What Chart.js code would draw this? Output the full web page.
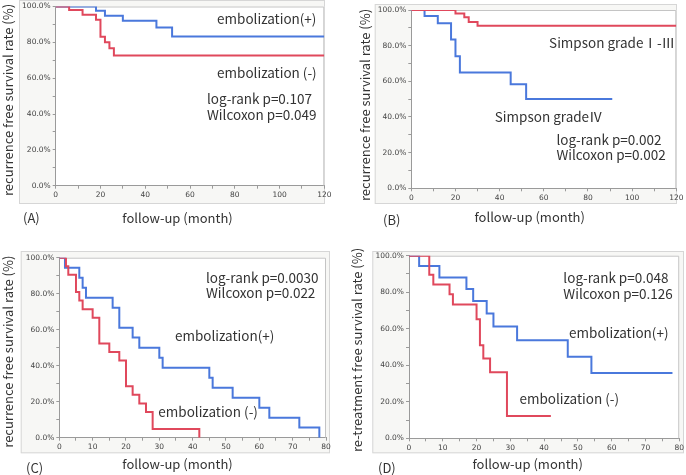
<!DOCTYPE html>
<html>
<head>
<meta charset="utf-8">
<script src="https://cdn.jsdelivr.net/npm/chart.js@4.4.1/dist/chart.umd.min.js"></script>
<style>
  html, body { margin: 0; padding: 0; background: #fff; }
  body { width: 686px; height: 475px; position: relative; overflow: hidden; }
  canvas { position: absolute; }
</style>
</head>
<body>
<canvas id="chart-a" width="343" height="237" style="left:0;top:0"></canvas>
<canvas id="chart-b" width="343" height="237" style="left:343px;top:0"></canvas>
<canvas id="chart-c" width="343" height="238" style="left:0;top:237px"></canvas>
<canvas id="chart-d" width="343" height="238" style="left:343px;top:237px"></canvas>
<script>
// Panel A - embolization, recurrence free survival (months, %)
const aPlusTimes = [0, 18, 22, 30, 45, 52, 120];
const aPlusSurv = [100, 97.6, 94.8, 92.0, 88.3, 83.3, 83.3];
const aMinusTimes = [0, 6, 12, 18, 20, 22, 24, 26, 120];
const aMinusSurv = [100, 98.0, 95.4, 92.6, 83.1, 80.0, 76.7, 72.6, 72.6];

// Panel B - Simpson grade
const bLowGradeTimes = [0, 20, 24, 26, 30, 120];
const bLowGradeSurv = [100, 98.1, 95.9, 93.3, 91.2, 91.2];
const bGrade4Times = [0, 6, 12, 18, 20, 22, 45, 52, 91];
const bGrade4Surv = [100, 96.6, 92.5, 83.4, 74.0, 65.0, 58.4, 50.1, 50.1];

// Panel C - embolization, recurrence free survival
const cPlusTimes = [0, 1.7, 6, 7, 8, 16, 18, 22, 24, 30, 31, 45, 46, 52, 60, 63, 72, 78];
const cPlusSurv = [100, 94.4, 88.9, 83.3, 77.8, 72.2, 61.1, 55.6, 50, 44.4, 38.9, 33.3, 27.8, 22.2, 16.7, 11.1, 5.6, 0];
const cMinusTimes = [0, 2, 2.7, 5, 6, 7, 10, 12, 15, 18, 20, 22, 24, 26, 28, 42];
const cMinusSurv = [100, 95.2, 90.5, 81.0, 76.2, 71.4, 66.7, 52.4, 47.6, 42.9, 28.6, 23.8, 19.0, 14.3, 4.8, 0];

// Panel D - embolization, re-treatment free survival
const dPlusTimes = [0, 3, 9, 17, 19, 23, 25, 32, 47, 54, 78];
const dPlusSurv = [100, 94.3, 88.1, 81.8, 75.2, 68.3, 61.2, 53.7, 44.6, 35.7, 35.7];
const dMinusTimes = [0, 6, 7.2, 12, 13, 20, 21, 22, 24, 29, 42];
const dMinusSurv = [100, 89.5, 84.2, 78.9, 73.3, 65.2, 51.0, 43.7, 36.2, 12.2, 12.2];

const BLUE = '#4a78dc';
const RED = '#e0485c';
const TEXT_FONT = '"Noto Sans CJK JP", "Noto Sans", sans-serif';
const TICK_FONT = 'DejaVu Sans';

// build {x, y} points from the arrays above
function curve(times, surv) {
    return times.map((t, i) => ({ x: t, y: surv[i] }));
}

function makePanel(id, p) {
    const yW = 36, xH = 16;
    const canvas = document.getElementById(id);
    const W = canvas.width, H = canvas.height;

    const decor = {
        id: 'decor',
        beforeDraw(chart) {
            const ctx = chart.ctx, a = chart.chartArea;
            ctx.save();
            // outer frame
            ctx.fillStyle = '#f7f7f5';
            ctx.fillRect(p.frame[0], p.frame[1], p.frame[2] - p.frame[0], p.frame[3] - p.frame[1]);
            ctx.strokeStyle = '#d6d6d6';
            ctx.lineWidth = 1;
            ctx.strokeRect(p.frame[0] + 0.5, p.frame[1] + 0.5, p.frame[2] - p.frame[0] - 1, p.frame[3] - p.frame[1] - 1);
            // plot area
            ctx.fillStyle = '#fff';
            ctx.fillRect(a.left, a.top, a.right - a.left, a.bottom - a.top);
            ctx.restore();
        },
        beforeDatasetsDraw(chart) {
            const ctx = chart.ctx, a = chart.chartArea;
            ctx.save();
            ctx.strokeStyle = '#c4c4c4';
            ctx.lineWidth = 1;
            ctx.beginPath();
            ctx.moveTo(a.left, a.top + 0.5);
            ctx.lineTo(a.right - 0.5, a.top + 0.5);
            ctx.lineTo(a.right - 0.5, a.bottom);
            ctx.stroke();
            ctx.restore();
        },
        afterDraw(chart) {
            const ctx = chart.ctx;
            const xs = chart.scales.x, ys = chart.scales.y;
            ctx.save();
            ctx.fillStyle = '#333';
            ctx.textBaseline = 'middle';
            // annotations in data coordinates
            ctx.font = '13.5px ' + TEXT_FONT;
            ctx.textAlign = 'left';
            p.notes.forEach(n => {
                ctx.fillText(n.text, xs.getPixelForValue(n.x), ys.getPixelForValue(n.y));
            });
            // axis titles and panel label
            ctx.font = '13px ' + TEXT_FONT;
            ctx.textAlign = 'center';
            ctx.fillText('follow-up (month)', p.xTitle[0], p.xTitle[1]);
            ctx.textAlign = 'left';
            ctx.fillText(p.label, p.labelPos[0], p.labelPos[1]);
            ctx.save();
            ctx.translate(p.yTitle[0], p.yTitle[1]);
            ctx.rotate(-Math.PI / 2);
            ctx.textAlign = 'center';
            ctx.font = '13px ' + TEXT_FONT;
            ctx.fillText(p.yText, 0, 0);
            ctx.restore();
            ctx.restore();
        }
    };

    return new Chart(canvas.getContext('2d'), {
        type: 'line',
        data: {
            datasets: p.series.map(s => ({
                data: curve(s.times, s.surv),
                borderColor: s.color,
                borderWidth: 2,
                stepped: 'before',
                pointRadius: 0,
                fill: false
            }))
        },
        options: {
            responsive: false,
            animation: false,
            devicePixelRatio: 1,
            layout: {
                padding: {
                    left: p.plot[0] - yW,
                    top: p.plot[1],
                    right: W - p.plot[2],
                    bottom: H - p.plot[3] - xH
                }
            },
            plugins: { legend: { display: false }, tooltip: { enabled: false } },
            scales: {
                x: {
                    type: 'linear',
                    min: 0,
                    max: p.xMax,
                    afterFit(s) { s.height = xH; },
                    ticks: {
                        stepSize: p.xMinor,
                        autoSkip: false,
                        maxRotation: 0,
                        padding: 2,
                        color: '#444',
                        font: { family: TICK_FONT, size: 7.5 },
                        callback: v => (v % p.xMajor === 0 ? String(v) : '')
                    },
                    grid: { drawOnChartArea: false, drawTicks: true, tickLength: 3, color: '#9a9a9a' },
                    border: { display: true, color: '#9a9a9a' }
                },
                y: {
                    min: 0,
                    max: 100,
                    afterFit(s) { s.width = yW; },
                    ticks: {
                        stepSize: 10,
                        autoSkip: false,
                        padding: 2,
                        color: '#444',
                        font: { family: TICK_FONT, size: 7.5 },
                        callback: v => (v % 20 === 0 ? v.toFixed(1) + '%' : '')
                    },
                    grid: { drawOnChartArea: false, drawTicks: true, tickLength: 3, color: '#9a9a9a' },
                    border: { display: true, color: '#9a9a9a' }
                }
            }
        },
        plugins: [decor]
    });
}

makePanel('chart-a', {
    plot: [55.7, 5.7, 324.3, 185.7],
    frame: [19, 0, 325, 204],
    xMax: 120, xMajor: 20, xMinor: 10,
    series: [
        { times: aMinusTimes, surv: aMinusSurv, color: RED },
        { times: aPlusTimes, surv: aPlusSurv, color: BLUE }
    ],
    notes: [
        { text: 'embolization(+)', x: 72.1, y: 93.2 },
        { text: 'embolization (-)', x: 72.1, y: 63.2 },
        { text: 'log-rank p=0.107', x: 67.6, y: 48.2 },
        { text: 'Wilcoxon p=0.049', x: 67.6, y: 39.7 }
    ],
    yText: 'recurrence free survival rate (%)',
    yTitle: [8.3, 100],
    xTitle: [177.5, 218],
    label: '(A)', labelPos: [23, 218]
});

makePanel('chart-b', {
    plot: [68.3, 10, 333.3, 188.3],
    frame: [31.7, 4, 334, 204],
    xMax: 120, xMajor: 20, xMinor: 10,
    series: [
        { times: bLowGradeTimes, surv: bLowGradeSurv, color: RED },
        { times: bGrade4Times, surv: bGrade4Surv, color: BLUE }
    ],
    notes: [
        { text: 'Simpson grade\u2160-\u2162', x: 62.4, y: 81.3 },
        { text: 'Simpson grade\u2163', x: 37.8, y: 40.2 },
        { text: 'log-rank p=0.002', x: 65.7, y: 27.1 },
        { text: 'Wilcoxon p=0.002', x: 65.7, y: 18.7 }
    ],
    yText: 'recurrence free survival rate (%)',
    yTitle: [21.7, 105],
    xTitle: [186.7, 216.7],
    label: '(B)', labelPos: [40, 220]
});

makePanel('chart-c', {
    plot: [59.3, 20.7, 326, 200.7],
    frame: [20.7, 14, 330, 216.3],
    xMax: 80, xMajor: 10, xMinor: 5,
    series: [
        { times: cMinusTimes, surv: cMinusSurv, color: RED },
        { times: cPlusTimes, surv: cPlusSurv, color: BLUE }
    ],
    notes: [
        { text: 'log-rank p=0.0030', x: 44, y: 88.9 },
        { text: 'Wilcoxon p=0.022', x: 44, y: 80.2 },
        { text: 'embolization(+)', x: 34.7, y: 56.7 },
        { text: 'embolization (-)', x: 29.7, y: 14.4 }
    ],
    yText: 'recurrence free survival rate (%)',
    yTitle: [8.3, 114.7],
    xTitle: [177.5, 227.3],
    label: '(C)', labelPos: [26, 231.3]
});

makePanel('chart-d', {
    plot: [66, 18.7, 337, 201.3],
    frame: [29.3, 14, 341, 216.3],
    xMax: 80, xMajor: 10, xMinor: 5,
    series: [
        { times: dMinusTimes, surv: dMinusSurv, color: RED },
        { times: dPlusTimes, surv: dPlusSurv, color: BLUE }
    ],
    notes: [
        { text: 'log-rank p=0.048', x: 45.7, y: 87.6 },
        { text: 'Wilcoxon p=0.126', x: 45.7, y: 78.9 },
        { text: 'embolization(+)', x: 47.4, y: 57.5 },
        { text: 'embolization (-)', x: 32.7, y: 21.5 }
    ],
    yText: 're-treatment free survival rate (%)',
    yTitle: [14, 113],
    xTitle: [184.7, 227.3],
    label: '(D)', labelPos: [35, 231.3]
});
</script>
</body>
</html>
